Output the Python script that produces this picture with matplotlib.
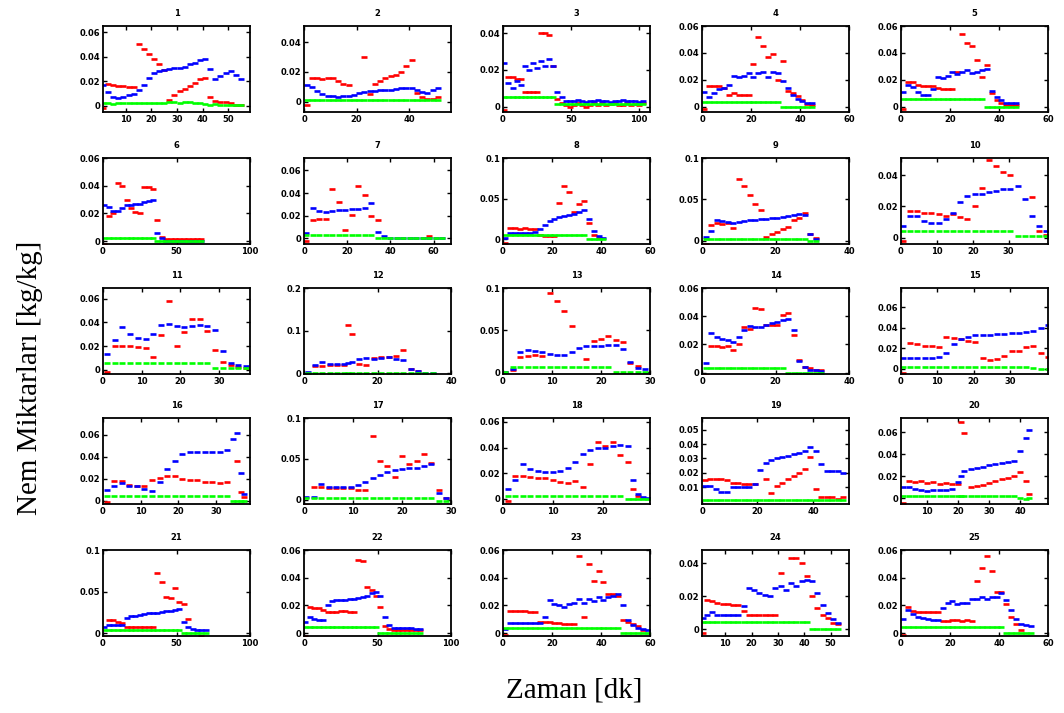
import numpy as np
import matplotlib
matplotlib.use("Agg")
import matplotlib.pyplot as plt

nan = np.nan

# --- veriler: her panel icin zaman (dk), kirmizi, mavi, yesil seriler ---
t1 = [1, 3, 5, 7, 9, 11, 13, 15, 17, 19, 21, 23, 25, 27, 29, 31, 33, 35, 37, 39, 41, 43, 45, 47, 49, 51, 53, 55]
r1 = [-0.002, 0.018, 0.017, 0.016, 0.016, 0.015, 0.015, 0.05, 0.046, 0.042, 0.038, 0.034, 0.029, 0.005, 0.009, 0.012,
      0.014, 0.016, 0.019, 0.022, 0.023, 0.007, 0.004, 0.003, 0.003, 0.002, 0.001, 0.001]
b1 = [0.017, 0.011, 0.007, 0.006, 0.007, 0.009, 0.01, 0.013, 0.017, 0.023, 0.027, 0.028, 0.029, 0.03, 0.031, 0.031,
      0.032, 0.034, 0.035, 0.037, 0.038, 0.03, 0.022, 0.024, 0.027, 0.028, 0.025, 0.022]
g1 = [0.0025, 0.002, 0.0015, 0.002, 0.002, 0.002, 0.002, 0.0025, 0.002, 0.002, 0.002, 0.002, 0.0025, 0.003, 0.003,
      0.0025, 0.003, 0.003, 0.0025, 0.002, 0.0015, 0.001, 0.0015, 0.001, 0.001, 0.001, 0.0005, 0.0005]

t2 = [1, 3, 5, 7, 9, 11, 13, 15, 17, 19, 21, 23, 25, 27, 29, 31, 33, 35, 37, 39, 41, 43, 45, 47, 49, 51]
r2 = [-0.002, 0.016, 0.016, 0.015, 0.016, 0.016, 0.014, 0.012, 0.011, nan, nan, 0.03, 0.005, 0.012, 0.014, 0.016,
      0.017, 0.018, 0.02, 0.024, 0.028, 0.006, 0.003, 0.002, 0.002, 0.003]
b2 = [0.011, 0.01, 0.007, 0.005, 0.004, 0.0035, 0.0033, 0.0035, 0.0038, 0.0045, 0.0055, 0.0065, 0.007, 0.0075,
      0.0078, 0.008, 0.008, 0.0085, 0.009, 0.009, 0.009, 0.008, 0.0065, 0.0055, 0.008, 0.009]
g2 = [0.0012, 0.0012, 0.0012, 0.0012, 0.0012, 0.0012, 0.0012, 0.0012, 0.0012, 0.0012, 0.0012, 0.0012, 0.0012,
      0.0012, 0.0012, 0.0012, 0.0012, 0.0012, 0.0012, 0.0012, 0.0012, 0.0011, 0.001, 0.001, 0.001, 0.001]

t3 = [1, 4, 7, 10, 13, 16, 19, 22, 25, 28, 31, 34, 37, 40, 43, 46, 49, 52, 55, 58, 61, 64, 67, 70, 73, 76, 79, 82,
      85, 88, 91, 94, 97, 100, 103]
r3 = [-0.002, 0.016, 0.016, 0.015, 0.015, 0.008, 0.008, 0.008, 0.008, 0.04, 0.04, 0.039, 0.022, 0.004, 0.002,
      0.001, 0.0, 0.001, 0.002, 0.001, 0.0, 0.001, 0.002, 0.001, 0.002, 0.001, 0.0015, 0.002, 0.001, 0.001, 0.002,
      0.001, 0.0015, 0.001, 0.002]
b3 = [0.024, 0.013, 0.01, 0.014, 0.012, 0.022, 0.02, 0.024, 0.021, 0.025, 0.022, 0.026, 0.022, 0.008, 0.005,
      0.003, 0.003, 0.003, 0.0035, 0.003, 0.0025, 0.003, 0.003, 0.0035, 0.003, 0.003, 0.0025, 0.003, 0.003, 0.0035,
      0.003, 0.003, 0.003, 0.0025, 0.003]
g3 = [0.005, 0.005, 0.005, 0.005, 0.005, 0.005, 0.005, 0.005, 0.005, 0.005, 0.005, 0.005, 0.005, 0.0015, 0.0015,
      0.0015, 0.0015, 0.0015, 0.0015, 0.0015, 0.0015, 0.0015, 0.0015, 0.0015, 0.0015, 0.0015, 0.0015, 0.0015,
      0.0015, 0.0015, 0.0015, 0.0015, 0.0015, 0.0015, 0.0015]

t4 = [1, 3, 5, 7, 9, 11, 13, 15, 17, 19, 21, 23, 25, 27, 29, 31, 33, 35, 37, 39, 41, 43, 45]
r4 = [-0.002, 0.015, 0.015, 0.015, 0.014, 0.009, 0.01, 0.009, 0.009, 0.009, 0.032, 0.052, 0.045, 0.037, 0.039,
      0.02, 0.034, 0.012, 0.01, 0.008, 0.005, 0.002, 0.001]
b4 = [0.011, 0.007, 0.01, 0.013, 0.014, 0.016, 0.023, 0.022, 0.023, 0.025, 0.022, 0.025, 0.026, 0.022, 0.026,
      0.025, 0.019, 0.014, 0.009, 0.006, 0.004, 0.003, 0.003]
g4 = [0.0035, 0.0035, 0.0035, 0.0035, 0.0035, 0.0035, 0.0035, 0.0035, 0.0035, 0.0035, 0.0035, 0.0035, 0.0035,
      0.0035, 0.0035, 0.0035, 0.0, 0.0, 0.0, 0.0, 0.0, 0.0, 0.0]

t5 = [1, 3, 5, 7, 9, 11, 13, 15, 17, 19, 21, 23, 25, 27, 29, 31, 33, 35, 37, 39, 41, 43, 45, 47]
r5 = [-0.002, 0.0185, 0.018, 0.016, 0.015, 0.015, 0.015, 0.014, 0.013, 0.013, 0.013, 0.026, 0.054, 0.047, 0.045,
      0.035, 0.022, 0.031, 0.01, 0.005, 0.003, 0.001, 0.001, 0.001]
b5 = [0.011, 0.016, 0.0145, 0.011, 0.009, 0.009, 0.013, 0.022, 0.021, 0.023, 0.026, 0.024, 0.026, 0.027, 0.025,
      0.026, 0.027, 0.028, 0.012, 0.007, 0.005, 0.003, 0.003, 0.003]
g5 = [0.006, 0.006, 0.006, 0.006, 0.006, 0.006, 0.006, 0.006, 0.006, 0.006, 0.006, 0.006, 0.006, 0.006, 0.006,
      0.006, 0.006, 0.0, 0.0, 0.0, 0.0, 0.0, 0.0, 0.0]

t6 = [1, 4, 7, 10, 13, 16, 19, 22, 25, 28, 31, 34, 37, 40, 43, 46, 49, 52, 55, 58, 61, 64, 67]
r6 = [-0.002, 0.018, 0.02, 0.042, 0.04, 0.03, 0.024, 0.021, 0.02, 0.039, 0.039, 0.038, 0.015, 0.003, 0.0016,
      0.0016, 0.0016, 0.0016, 0.0015, 0.0016, 0.0016, 0.0016, 0.0015]
b6 = [0.026, 0.025, 0.022, 0.022, 0.024, 0.026, 0.026, 0.027, 0.027, 0.028, 0.029, 0.03, 0.006, 0.002, 0.0005,
      0.0, 0.0, 0.0, 0.0, 0.0, 0.0, 0.0, 0.0]
g6 = [0.0024, 0.0024, 0.0024, 0.0024, 0.0024, 0.0024, 0.0024, 0.0024, 0.0024, 0.0024, 0.0024, 0.0024, 0.0, 0.0,
      0.0, 0.0, 0.0, 0.0, 0.0, 0.0, 0.0, 0.0, 0.0]

t7 = [1, 4, 7, 10, 13, 16, 19, 22, 25, 28, 31, 34, 37, 40, 43, 46, 49, 52, 55, 58, 61, 64]
r7 = [-0.002, 0.016, 0.017, 0.017, 0.044, 0.032, 0.007, 0.021, 0.046, 0.038, 0.02, 0.016, nan, nan, nan, nan, nan,
      nan, nan, 0.002, nan, nan]
b7 = [0.005, 0.027, 0.024, 0.023, 0.024, 0.025, 0.025, 0.026, 0.026, 0.027, 0.031, 0.006, 0.002, 0.0, 0.0, 0.0,
      0.0, 0.0, 0.0, 0.0, 0.0, 0.0]
g7 = [0.0027, 0.0027, 0.0027, 0.0027, 0.0027, 0.0027, 0.0027, 0.0027, 0.0027, 0.0027, 0.0027, 0.0, 0.0, 0.0, 0.0,
      0.0, 0.0, 0.0, 0.0, 0.0, 0.0, 0.0]

t8 = [1, 3, 5, 7, 9, 11, 13, 15, 17, 19, 21, 23, 25, 27, 29, 31, 33, 35, 37, 39, 41]
r8 = [-0.005, 0.014, 0.014, 0.013, 0.014, 0.013, 0.013, 0.005, 0.004, 0.004, 0.004, 0.044, 0.065, 0.058, 0.034,
      0.043, 0.047, 0.02, 0.005, 0.002, nan]
b8 = [0.002, 0.008, 0.008, 0.008, 0.008, 0.008, 0.009, 0.012, 0.018, 0.022, 0.025, 0.027, 0.028, 0.03, 0.031,
      0.033, 0.036, 0.025, 0.01, 0.004, 0.002]
g8 = [0.005, 0.005, 0.005, 0.005, 0.005, 0.005, 0.005, 0.005, 0.005, 0.005, 0.005, 0.005, 0.005, 0.005, 0.005,
      0.005, 0.005, 0.0, 0.0, 0.0, 0.0]

t9 = [1, 2.5, 4, 5.5, 7, 8.5, 10, 11.5, 13, 14.5, 16, 17.5, 19, 20.5, 22, 23.5, 25, 26.5, 28, 29.5, 31]
r9 = [-0.004, 0.019, 0.021, 0.02, 0.021, 0.015, 0.075, 0.066, 0.055, 0.044, 0.037, 0.005, 0.008, 0.011, 0.014,
      0.017, 0.025, 0.028, 0.034, 0.008, 0.003]
b9 = [0.004, 0.012, 0.025, 0.024, 0.023, 0.022, 0.023, 0.024, 0.025, 0.025, 0.026, 0.026, 0.027, 0.028, 0.029,
      0.03, 0.031, 0.032, 0.031, 0.008, 0.002]
g9 = [0.002, 0.002, 0.002, 0.002, 0.002, 0.002, 0.002, 0.002, 0.002, 0.002, 0.002, 0.002, 0.002, 0.002, 0.002,
      0.002, 0.002, 0.002, 0.002, 0.0, 0.0]

t10 = [0.5, 2.5, 4.5, 6.5, 8.5, 10.5, 12.5, 14.5, 16.5, 18.5, 20.5, 22.5, 24.5, 26.5, 28.5, 30.5, 32.5, 34.5,
       36.5, 38.5, 40.5]
r10 = [-0.002, 0.017, 0.017, 0.016, 0.016, 0.015, 0.014, 0.015, 0.013, 0.012, 0.02, 0.032, 0.05, 0.046, 0.042,
       0.04, nan, nan, 0.026, 0.004, 0.002]
b10 = [0.0076, 0.014, 0.014, 0.011, 0.0097, 0.0097, 0.012, 0.016, 0.023, 0.027, 0.028, 0.028, 0.029, 0.03, 0.031,
       0.031, 0.033, 0.025, 0.014, 0.0076, 0.004]
g10 = [0.0045, 0.0045, 0.0045, 0.0045, 0.0045, 0.0045, 0.0045, 0.0045, 0.0045, 0.0045, 0.0045, 0.0045, 0.0045,
       0.0045, 0.0045, 0.0045, 0.001, 0.001, 0.001, 0.001, 0.001]

t11 = [1, 3, 5, 7, 9, 11, 13, 15, 17, 19, 21, 23, 25, 27, 29, 31, 33, 35, 37]
r11 = [-0.0015, 0.02, 0.02, 0.02, 0.019, 0.0186, 0.011, 0.029, 0.058, 0.02, 0.032, 0.043, 0.043, 0.033, 0.017,
       0.007, 0.004, 0.002, 0.0015]
b11 = [0.013, 0.025, 0.036, 0.03, 0.027, 0.026, 0.03, 0.038, 0.039, 0.037, 0.036, 0.037, 0.038, 0.037, 0.034,
       0.016, 0.006, 0.004, 0.003]
g11 = [0.0057, 0.0057, 0.0057, 0.0057, 0.0057, 0.0057, 0.0057, 0.0057, 0.0057, 0.0057, 0.0057, 0.0057, 0.0057,
       0.0057, 0.0014, 0.0014, 0.0014, 0.0014, 0.0014]

t12 = [1, 3, 5, 7, 9, 11, 12, 13, 15, 17, 19, 21, 23, 25, 27, 29, 31, 33, 35]
r12 = [-0.004, 0.016, 0.016, 0.018, 0.018, 0.018, 0.113, 0.093, 0.022, 0.018, 0.035, 0.038, 0.038, 0.04, 0.054,
       0.01, 0.006, nan, nan]
b12 = [0.002, 0.018, 0.026, 0.022, 0.022, 0.022, 0.024, 0.026, 0.034, 0.035, 0.034, 0.036, 0.038, 0.034, 0.03,
       0.01, 0.004, 0.001, 0.0]
g12 = [0.0015, 0.0015, 0.0015, 0.0015, 0.0015, 0.0015, 0.0015, 0.0015, 0.0015, 0.0015, 0.0015, 0.0015, 0.0015,
       0.0015, 0.0015, 0.0015, 0.0015, 0.0015, 0.0015]

t13 = [0.5, 2, 3.5, 5, 6.5, 8, 9.5, 11, 12.5, 14, 15.5, 17, 18.5, 20, 21.5, 23, 24.5, 26, 27.5, 29]
r13 = [0.0, 0.003, 0.018, 0.019, 0.02, 0.019, 0.094, 0.085, 0.073, 0.055, nan, 0.016, 0.037, 0.039, 0.043, 0.038,
       0.036, 0.011, 0.007, nan]
b13 = [0.0, 0.004, 0.024, 0.026, 0.025, 0.024, 0.022, 0.021, 0.021, 0.024, 0.029, 0.031, 0.031, 0.031, 0.032,
       0.032, 0.028, 0.012, 0.005, 0.004]
g13 = [0.0, 0.0065, 0.0065, 0.0065, 0.0065, 0.0065, 0.0065, 0.0065, 0.0065, 0.0065, 0.0065, 0.0065, 0.0065,
       0.0065, 0.0065, 0.0, 0.0, 0.0, 0.0, 0.0]

t14 = [1, 2.5, 4, 5.5, 7, 8.5, 10, 11.5, 13, 14.5, 16, 17.5, 19, 20.5, 22, 23.5, 25, 26.5, 28, 29.5, 31, 32.5]
r14 = [-0.002, 0.019, 0.019, 0.018, 0.019, 0.016, 0.02, 0.032, 0.031, 0.046, 0.045, 0.034, 0.034, 0.034, 0.041,
       0.042, 0.027, 0.009, 0.004, 0.003, 0.002, 0.002]
b14 = [0.0067, 0.028, 0.025, 0.024, 0.023, 0.022, 0.025, 0.03, 0.033, 0.032, 0.032, 0.034, 0.035, 0.036, 0.037,
       0.038, 0.03, 0.008, 0.004, 0.002, 0.0015, 0.001]
g14 = [0.003, 0.003, 0.003, 0.003, 0.003, 0.003, 0.003, 0.003, 0.003, 0.003, 0.003, 0.003, 0.003, 0.003, 0.003,
       0.0, 0.0, 0.0, 0.0, 0.0, 0.0, 0.0]

t15 = [0.5, 2.5, 4.5, 6.5, 8.5, 10.5, 12.5, 14.5, 16.5, 18.5, 20.5, 22.5, 24.5, 26.5, 28.5, 30.5, 32.5, 34.5,
       36.5, 38.5, 40.5]
r15 = [-0.004, 0.025, 0.024, 0.022, 0.022, 0.021, 0.031, 0.03, 0.029, 0.027, 0.026, 0.011, 0.009, 0.01, 0.013,
       0.017, 0.017, 0.021, 0.022, 0.016, 0.012]
b15 = [0.011, 0.011, 0.011, 0.011, 0.011, 0.012, 0.016, 0.024, 0.029, 0.031, 0.033, 0.033, 0.033, 0.034, 0.034,
       0.035, 0.035, 0.036, 0.037, 0.04, 0.043]
g15 = [0.002, 0.002, 0.002, 0.002, 0.002, 0.002, 0.002, 0.002, 0.002, 0.002, 0.002, 0.002, 0.002, 0.002, 0.002,
       0.002, 0.002, 0.002, 0.0005, 0.0, 0.0]

t16 = [1, 3, 5, 7, 9, 11, 13, 15, 17, 19, 21, 23, 25, 27, 29, 31, 33, 34.5, 35.5, 36.5, 37.5]
r16 = [-0.0015, 0.018, 0.018, 0.014, 0.0135, 0.0135, 0.019, 0.021, 0.022, 0.022, 0.02, 0.019, 0.019, 0.017,
       0.017, 0.016, 0.017, nan, 0.036, 0.008, 0.003]
b16 = [0.01, 0.013, 0.016, 0.0135, 0.013, 0.011, 0.009, 0.017, 0.029, 0.036, 0.042, 0.044, 0.044, 0.044, 0.044,
       0.044, 0.046, 0.056, 0.061, 0.025, 0.006]
g16 = [0.004, 0.004, 0.004, 0.004, 0.004, 0.004, 0.004, 0.004, 0.004, 0.004, 0.004, 0.004, 0.004, 0.004, 0.004,
       0.004, 0.004, 0.0, 0.0, 0.0, 0.0]

t17 = [0.5, 2, 3.5, 5, 6.5, 8, 9.5, 11, 12.5, 14, 15.5, 17, 18.5, 20, 21.5, 23, 24.5, 26, 27.5, 29]
r17 = [-0.006, 0.016, 0.016, 0.015, 0.014, 0.014, 0.014, 0.012, 0.012, 0.078, 0.048, 0.042, 0.028, 0.054, 0.044,
       0.048, 0.056, 0.045, 0.012, 0.002]
b17 = [0.003, 0.004, 0.019, 0.016, 0.016, 0.016, 0.016, 0.018, 0.022, 0.027, 0.03, 0.034, 0.036, 0.038, 0.039,
       0.039, 0.041, 0.044, 0.008, 0.002]
g17 = [0.002, 0.002, 0.002, 0.002, 0.002, 0.002, 0.002, 0.002, 0.002, 0.002, 0.002, 0.002, 0.002, 0.002, 0.002,
       0.002, 0.002, 0.002, -0.001, -0.001]

t18 = [1, 2.5, 4, 5.5, 7, 8.5, 10, 11.5, 13, 14.5, 16, 17.5, 19, 20.5, 22, 23.5, 25, 26, 27, 28, 29]
r18 = [-0.002, 0.018, 0.018, 0.017, 0.016, 0.016, 0.015, 0.013, 0.012, 0.014, 0.009, 0.027, 0.044, 0.041, 0.044,
       0.034, 0.029, 0.008, 0.002, nan, nan]
b18 = [0.0077, 0.015, 0.027, 0.023, 0.022, 0.021, 0.021, 0.022, 0.024, 0.029, 0.035, 0.038, 0.04, 0.04, 0.041,
       0.042, 0.041, 0.015, 0.004, 0.0015, 0.001]
g18 = [0.0023, 0.0023, 0.0023, 0.0023, 0.0023, 0.0023, 0.0023, 0.0023, 0.0023, 0.0023, 0.0023, 0.0023, 0.0023,
       0.0023, 0.0023, 0.0023, 0.0, 0.0, 0.0, 0.0, 0.0]

t19 = [1, 3, 5, 7, 9, 11, 13, 15, 17, 19, 21, 23, 25, 27, 29, 31, 33, 35, 37, 39, 41, 43, 45, 47, 49, 51]
r19 = [0.015, 0.016, 0.0157, 0.0155, 0.015, 0.013, 0.013, 0.012, 0.012, 0.012, nan, 0.0157, 0.006, 0.011, 0.013,
       0.016, 0.018, 0.02, 0.0225, 0.031, 0.009, 0.003, 0.003, 0.003, 0.002, 0.003]
b19 = [0.011, 0.011, 0.009, 0.007, 0.007, 0.01, 0.01, 0.01, 0.01, 0.012, 0.022, 0.027, 0.029, 0.03, 0.031, 0.032,
       0.033, 0.034, 0.035, 0.038, 0.035, 0.026, 0.021, 0.021, 0.021, 0.02]
g19 = [0.001, 0.001, 0.001, 0.001, 0.001, 0.001, 0.001, 0.001, 0.001, 0.001, 0.001, 0.001, 0.001, 0.001, 0.001,
       0.001, 0.001, 0.001, 0.001, 0.001, 0.001, 0.001, 0.001, 0.001, 0.001, 0.001]

t20 = [2, 4, 6, 8, 10, 12, 14, 16, 18, 20, 21, 22, 24, 26, 28, 30, 32, 34, 36, 38, 40, 42, 43]
r20 = [-0.004, 0.016, 0.015, 0.016, 0.014, 0.015, 0.013, 0.014, 0.013, 0.013, 0.069, 0.059, 0.01, 0.011, 0.012,
       0.014, 0.016, 0.018, 0.019, 0.02, 0.0236, 0.016, 0.004]
b20 = [0.01, 0.01, 0.009, 0.008, 0.007, 0.008, 0.008, 0.008, 0.009, 0.015, 0.02, 0.025, 0.027, 0.028, 0.029,
       0.03, 0.031, 0.032, 0.033, 0.034, 0.043, 0.055, 0.062]
g20 = [0.0024, 0.0024, 0.0024, 0.0024, 0.0024, 0.0024, 0.0024, 0.0024, 0.0024, 0.0024, 0.0024, 0.0024, 0.0024,
       0.0024, 0.0024, 0.0024, 0.0024, 0.0024, 0.0024, 0.0024, 0.0005, -0.0005, 0.0]

t21 = [1, 4, 7, 10, 13, 16, 19, 22, 25, 28, 31, 34, 37, 40, 43, 46, 49, 52, 55, 58, 61, 64, 67, 70]
r21 = [-0.004, 0.016, 0.016, 0.014, 0.013, 0.008, 0.008, 0.008, 0.008, 0.008, 0.008, 0.008, 0.073, 0.062, 0.044,
       0.042, 0.054, 0.038, 0.035, 0.017, nan, nan, -0.003, nan]
b21 = [0.008, 0.01, 0.01, 0.01, 0.01, 0.018, 0.021, 0.021, 0.022, 0.023, 0.024, 0.025, 0.025, 0.026, 0.027, 0.027,
       0.028, 0.029, 0.014, 0.008, 0.005, 0.004, 0.004, 0.004]
g21 = [0.004, 0.004, 0.004, 0.004, 0.004, 0.004, 0.004, 0.004, 0.004, 0.004, 0.004, 0.004, 0.004, 0.004, 0.004,
       0.004, 0.004, 0.004, 0.0, 0.0, 0.0, 0.0, 0.0, 0.0]

t22 = [1, 4, 7, 10, 13, 16, 19, 22, 25, 28, 31, 34, 37, 40, 43, 46, 49, 52, 55, 58, 61, 64, 67, 70, 73, 76, 79]
r22 = [-0.002, 0.019, 0.018, 0.018, 0.017, 0.015, 0.015, 0.015, 0.016, 0.016, 0.015, 0.015, 0.053, 0.052, 0.033,
       0.031, 0.027, 0.019, 0.005, 0.003, 0.0023, 0.0023, 0.002, 0.002, 0.0023, 0.002, 0.002]
b22 = [0.008, 0.0116, 0.01, 0.0095, 0.0093, 0.02, 0.023, 0.024, 0.024, 0.024, 0.025, 0.025, 0.0256, 0.026, 0.027,
       0.029, 0.03, 0.027, 0.012, 0.006, 0.004, 0.0035, 0.0035, 0.0035, 0.0035, 0.003, 0.003]
g22 = [0.0047, 0.0047, 0.0047, 0.0047, 0.0047, 0.0047, 0.0047, 0.0047, 0.0047, 0.0047, 0.0047, 0.0047, 0.0047,
       0.0047, 0.0047, 0.0047, 0.0047, 0.0, 0.0, 0.0, 0.0, 0.0, 0.0, 0.0, 0.0, 0.0, 0.0]

t23 = [1, 3, 5, 7, 9, 11, 13, 15, 17, 19, 21, 23, 25, 27, 29, 31, 33, 35, 37, 39, 41, 43, 45, 47, 49, 51, 53, 55,
       57, 59]
r23 = [-0.0014, 0.016, 0.016, 0.016, 0.016, 0.015, 0.015, 0.008, 0.008, 0.008, 0.0077, 0.0077, 0.007, 0.007,
       0.007, 0.056, 0.012, 0.05, 0.038, 0.045, 0.037, 0.028, 0.028, 0.0265, 0.0095, 0.008, 0.007, 0.005, 0.002, nan]
b23 = [0.003, 0.0077, 0.0077, 0.0077, 0.0077, 0.0077, 0.0077, 0.0077, 0.012, 0.024, 0.021, 0.02, 0.019, 0.021,
       0.022, 0.0244, 0.022, 0.025, 0.023, 0.026, 0.024, 0.026, 0.0265, 0.028, 0.02, 0.0095, 0.006, 0.004, 0.003,
       0.002]
g23 = [0.004, 0.004, 0.004, 0.004, 0.004, 0.004, 0.004, 0.004, 0.004, 0.004, 0.004, 0.004, 0.004, 0.004, 0.004,
       0.004, 0.004, 0.004, 0.004, 0.004, 0.004, 0.004, 0.004, 0.004, 0.0, 0.0, 0.0, 0.0, 0.0, 0.0]

t24 = [1.5, 3, 5, 7, 9, 11, 13, 15, 17, 19, 21, 23, 25, 27, 29, 31, 33, 35, 37, 39, 41, 43, 45, 47, 49, 51, 53]
r24 = [-0.002, 0.0175, 0.017, 0.016, 0.0155, 0.0155, 0.015, 0.015, 0.011, 0.009, 0.009, 0.0085, 0.0085, 0.0086,
       0.0086, 0.034, nan, 0.043, 0.043, 0.04, 0.032, 0.02, 0.013, 0.009, 0.007, 0.004, 0.003]
b24 = [0.007, 0.009, 0.0103, 0.0086, 0.0086, 0.0086, 0.0086, 0.0086, 0.014, 0.025, 0.024, 0.022, 0.021, 0.02,
       0.025, 0.026, 0.024, 0.028, 0.026, 0.029, 0.03, 0.029, 0.022, 0.015, 0.01, 0.006, 0.004]
g24 = [0.0045, 0.0045, 0.0045, 0.0045, 0.0045, 0.0045, 0.0045, 0.0045, 0.0045, 0.0045, 0.0045, 0.0045, 0.0045,
       0.0045, 0.0045, 0.0045, 0.0045, 0.0045, 0.0045, 0.0045, 0.0045, 0.0, 0.0, 0.0, 0.0, 0.0, 0.0]

t25 = [1, 3, 5, 7, 9, 11, 13, 15, 17, 19, 21, 23, 25, 27, 29, 31, 33, 35, 37, 39, 41, 43, 45, 47, 49, 51, 53]
r25 = [-0.001, 0.0186, 0.016, 0.015, 0.015, 0.015, 0.015, 0.015, 0.009, 0.009, 0.0093, 0.0093, 0.009, 0.0093,
       0.009, 0.038, 0.047, 0.056, 0.045, 0.03, 0.03, 0.021, 0.012, 0.007, 0.0023, nan, nan]
b25 = [0.0105, 0.017, 0.014, 0.012, 0.011, 0.01, 0.0095, 0.0093, 0.018, 0.022, 0.023, 0.021, 0.022, 0.022, 0.025,
       0.025, 0.026, 0.025, 0.026, 0.026, 0.029, 0.024, 0.017, 0.01, 0.007, 0.006, 0.005]
g25 = [0.0047, 0.0047, 0.0047, 0.0047, 0.0047, 0.0047, 0.0047, 0.0047, 0.0047, 0.0047, 0.0047, 0.0047, 0.0047,
       0.0047, 0.0047, 0.0047, 0.0047, 0.0047, 0.0047, 0.0047, 0.0047, 0.0, 0.0, 0.0, 0.0, 0.0, 0.0]

zaman = [t1, t2, t3, t4, t5, t6, t7, t8, t9, t10, t11, t12, t13, t14, t15, t16, t17, t18, t19, t20, t21, t22, t23,
         t24, t25]
kirmizi = [r1, r2, r3, r4, r5, r6, r7, r8, r9, r10, r11, r12, r13, r14, r15, r16, r17, r18, r19, r20, r21, r22,
           r23, r24, r25]
mavi = [b1, b2, b3, b4, b5, b6, b7, b8, b9, b10, b11, b12, b13, b14, b15, b16, b17, b18, b19, b20, b21, b22, b23,
        b24, b25]
yesil = [g1, g2, g3, g4, g5, g6, g7, g8, g9, g10, g11, g12, g13, g14, g15, g16, g17, g18, g19, g20, g21, g22, g23,
         g24, g25]

# eksen sinirlari ve isaretleri
xlims = [(1, 58.6), (0, 56), (0, 108), (0, 60), (0, 60),
         (0, 100), (0, 68), (0, 60), (0, 40), (0, 41),
         (0, 38), (0, 40), (0, 30), (0, 40), (0, 40.5),
         (0, 39), (0, 30), (0, 29.5), (0, 53), (1.5, 49),
         (0, 100), (0, 100), (0, 60), (1.2, 57), (0, 60)]
ylims = [(-0.005, 0.065), (-0.007, 0.051), (-0.003, 0.044), (-0.004, 0.06), (-0.004, 0.06),
         (-0.002, 0.06), (-0.005, 0.071), (-0.006, 0.1), (-0.004, 0.1), (-0.004, 0.051),
         (-0.0035, 0.069), (-0.002, 0.2), (-0.002, 0.1), (-0.001, 0.06), (-0.005, 0.079),
         (-0.003, 0.075), (-0.005, 0.1), (-0.004, 0.063), (-0.0015, 0.058), (-0.005, 0.073),
         (-0.003, 0.1), (-0.002, 0.06), (-0.002, 0.06), (-0.004, 0.048), (-0.002, 0.06)]
xticks = [[10, 20, 30, 40, 50], [0, 20, 40], [0, 50, 100], [0, 20, 40, 60], [0, 20, 40, 60],
          [0, 50, 100], [0, 20, 40, 60], [0, 20, 40, 60], [0, 20, 40], [0, 10, 20, 30],
          [0, 10, 20, 30], [0, 20, 40], [0, 10, 20, 30], [0, 20, 40], [0, 10, 20, 30],
          [0, 10, 20, 30], [0, 10, 20, 30], [0, 10, 20], [0, 20, 40], [10, 20, 30, 40],
          [0, 50, 100], [0, 50, 100], [0, 20, 40, 60], [10, 20, 30, 40, 50], [0, 20, 40, 60]]
yticks = [[0, 0.02, 0.04, 0.06], [0, 0.02, 0.04], [0, 0.02, 0.04], [0, 0.02, 0.04, 0.06], [0, 0.02, 0.04, 0.06],
          [0, 0.02, 0.04, 0.06], [0, 0.02, 0.04, 0.06], [0, 0.05, 0.1], [0, 0.05, 0.1], [0, 0.02, 0.04],
          [0, 0.02, 0.04, 0.06], [0, 0.1, 0.2], [0, 0.05, 0.1], [0, 0.02, 0.04, 0.06], [0, 0.02, 0.04, 0.06],
          [0, 0.02, 0.04, 0.06], [0, 0.05, 0.1], [0, 0.02, 0.04, 0.06], [0.01, 0.02, 0.03, 0.04, 0.05],
          [0, 0.02, 0.04, 0.06],
          [0, 0.05, 0.1], [0, 0.02, 0.04, 0.06], [0, 0.02, 0.04, 0.06], [0, 0.02, 0.04], [0, 0.02, 0.04, 0.06]]

W, H = 1064, 713
fig = plt.figure(figsize=(W / 100, H / 100), dpi=100)

sol = [103, 304, 503, 702, 901]
ust = [26, 158, 288, 418, 550]
gen, yuk = 147, 86

for i in range(25):
    satir, sutun = divmod(i, 5)
    ax = fig.add_axes([sol[sutun] / W, 1 - (ust[satir] + yuk) / H, gen / W, yuk / H])
    # MATLAB '.' isaretleri dusuk cozunurlukte kisa cizgiler gibi gorunuyor
    for seri, renk in ((kirmizi[i], (1, 0, 0)), (mavi[i], (0, 0, 1)), (yesil[i], (0, 1, 0))):
        ax.plot(zaman[i], seri, '_', color=renk, ms=4.5, mew=1.9)
    ax.set_xlim(xlims[i])
    ax.set_ylim(ylims[i])
    ax.set_xticks(xticks[i])
    ax.set_yticks(yticks[i])
    ax.set_yticklabels(['%g' % v for v in yticks[i]])
    ax.tick_params(direction='in', top=True, right=True, length=3, width=1,
                   labelsize=6, pad=2)
    for lab in ax.get_xticklabels() + ax.get_yticklabels():
        lab.set_fontweight('bold')
    for s in ax.spines.values():
        s.set_linewidth(1.3)
    ax.set_title(str(i + 1), fontsize=6, fontweight='bold', pad=7)

fig.text(0.028, 0.47, 'Nem Miktarları [kg/kg]', rotation=90, ha='center', va='center',
         fontsize=21, family='Liberation Serif')
fig.text(0.54, 0.032, 'Zaman [dk]', ha='center', va='center', fontsize=21, family='Liberation Serif')

fig.savefig('out.png', dpi=100)
